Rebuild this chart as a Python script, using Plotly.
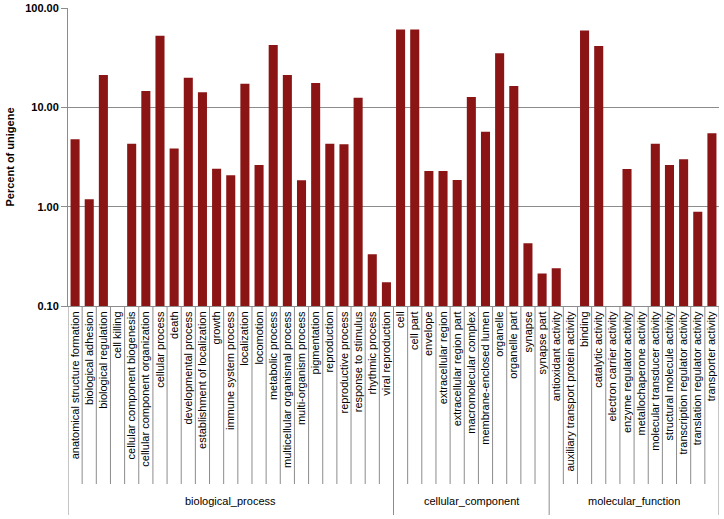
import plotly.graph_objects as go

bp_terms = ["anatomical structure formation", "biological adhesion", "biological regulation", "cell killing",
            "cellular component biogenesis", "cellular component organization", "cellular process", "death",
            "developmental process", "establishment of localization", "growth", "immune system process",
            "localization", "locomotion", "metabolic process", "multicellular organismal process",
            "multi-organism process", "pigmentation", "reproduction", "reproductive process",
            "response to stimulus", "rhythmic process", "viral reproduction"]
bp_values = [4.77, 1.19, 21.2, None, 4.31, 14.6, 52.7, 3.84, 19.9, 14.2, 2.41, 2.07,
             17.3, 2.63, 42.5, 21.2, 1.84, 17.6, 4.31, 4.25, 12.5, 0.331, 0.173]

cc_terms = ["cell", "cell part", "envelope", "extracellular region", "extracellular region part",
            "macromolecular complex", "membrane-enclosed lumen", "organelle", "organelle part",
            "synapse", "synapse part"]
cc_values = [60.6, 60.6, 2.29, 2.29, 1.86, 12.7, 5.69, 35.1, 16.4, 0.428, 0.212]

mf_terms = ["antioxidant activity", "auxiliary transport protein activity", "binding", "catalytic activity",
            "electron carrier activity", "enzyme regulator activity", "metallochaperone activity",
            "molecular transducer activity", "structural molecule activity", "transcription regulator activity",
            "translation regulator activity", "transporter activity"]
mf_values = [0.240, None, 59.3, 41.5, None, 2.40, None, 4.31, 2.63, 3.00, 0.891, 5.48]

group_names = ["biological_process", "cellular_component", "molecular_function"]
group_terms = [bp_terms, cc_terms, mf_terms]
group_values = [bp_values, cc_values, mf_values]

y_tickvals = [0.1, 1, 10, 100]
y_ticktext = ["0.10", "1.00", "10.00", "100.00"]

categories = [t for g in group_terms for t in g]
values = [v for g in group_values for v in g]

W, H = 724, 519
ML, MR, MT, MB = 68, 5, 8, 213
plot_h = H - MT - MB

def ypaper(px):
    return (H - MB - px) / plot_h

fig = go.Figure()
fig.add_trace(go.Bar(
    x=categories, y=values,
    marker=dict(color="#8B1515", line=dict(width=0)),
    width=0.64,
))

line_color = "#8c8c8c"
shapes = []
group_bounds = [0]
for g in group_terms:
    group_bounds.append(group_bounds[-1] + len(g))
n = len(categories)
for i in range(n + 1):
    long = i in group_bounds
    shapes.append(dict(type="line", xref="x", yref="paper",
                       x0=i - 0.5, x1=i - 0.5, y0=0,
                       y1=ypaper(515 if long else 484),
                       line=dict(color=line_color, width=1)))

annotations = []
for gi, name in enumerate(group_names):
    center = (group_bounds[gi] + group_bounds[gi + 1] - 1) / 2
    annotations.append(dict(x=center, y=ypaper(501), xref="x", yref="paper",
                            text=name, showarrow=False,
                            font=dict(family="Liberation Sans, Arial", size=11, color="black"),
                            xanchor="center", yanchor="middle"))

fig.update_layout(
    width=W, height=H,
    margin=dict(l=ML, r=MR, t=MT, b=MB, pad=0, autoexpand=False),
    plot_bgcolor="white", paper_bgcolor="white",
    showlegend=False,
    shapes=shapes,
    annotations=annotations,
    font=dict(family="Liberation Sans, Arial", color="black"),
)
fig.update_xaxes(
    type="category", tickangle=-90, showgrid=False,
    tickfont=dict(family="Liberation Sans, Arial", size=11, color="black"),
    showline=True, linecolor=line_color, linewidth=1,
    ticks="", range=[-0.5, n - 0.5], automargin=False,
)
fig.update_yaxes(
    type="log", range=[-1, 2],
    tickvals=y_tickvals, ticktext=y_ticktext,
    tickfont=dict(family="Liberation Sans, Arial", size=11, color="black", weight="bold"),
    showgrid=True, gridcolor=line_color, gridwidth=1,
    showline=True, linecolor=line_color, linewidth=1,
    ticks="outside", ticklen=6, tickcolor=line_color,
    zeroline=False, automargin=False,
    title=dict(text="<b>Percent of unigene</b>", font=dict(family="Liberation Sans, Arial", size=11), standoff=8),
)

fig.write_html("out.html", config={"displayModeBar": False},
               post_script="document.body.style.margin='0';")
